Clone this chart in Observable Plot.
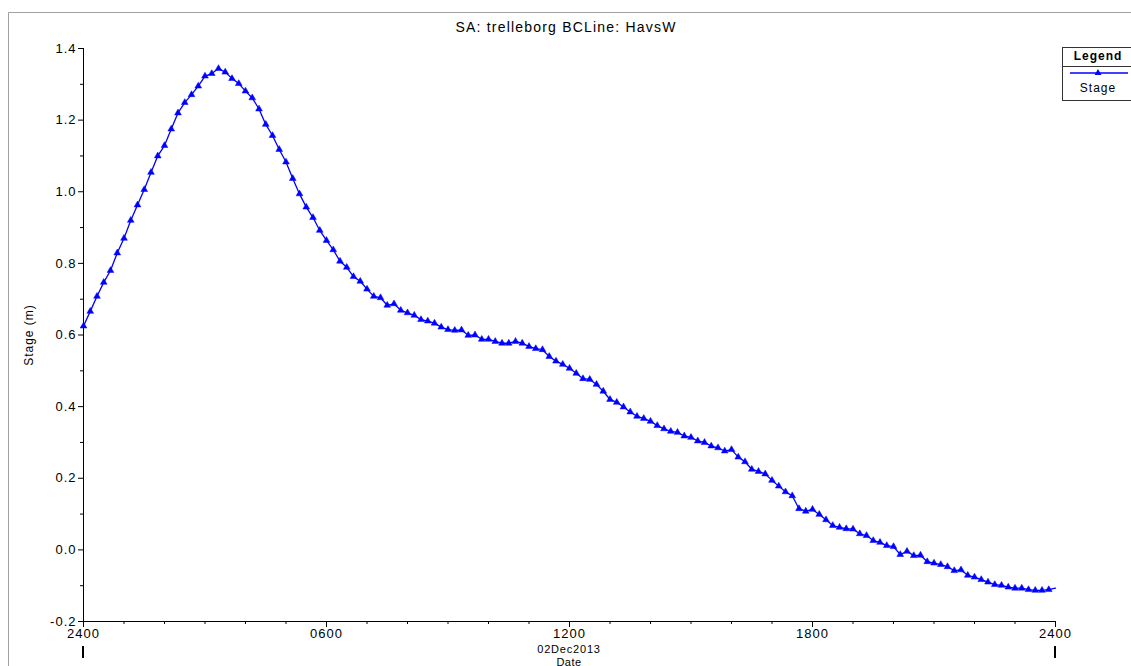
<!DOCTYPE html>
<html>
<head>
<meta charset="utf-8">
<script src="https://cdn.jsdelivr.net/npm/d3@7"></script>
<script src="https://cdn.jsdelivr.net/npm/@observablehq/plot@0.6"></script>
<style>
html, body { margin: 0; padding: 0; background: #fff; }
body { width: 1131px; height: 666px; overflow: hidden; }
#chart svg text { letter-spacing: 1px; }
</style>
</head>
<body>
<div id="chart"></div>
<script>
// ---- chart content ----
const title = "SA: trelleborg BCLine: HavsW";
const seriesName = "Stage";
const legendTitle = "Legend";
const yLabel = "Stage (m)";
const xLabel = "Date";
const dateLabel = "02Dec2013";
const intervalMinutes = 10;

// Stage (m), one value every 10 minutes from 01Dec2013 2400 to 02Dec2013 2400
const stage = [
  0.625, 0.666, 0.708, 0.747, 0.780, 0.829, 0.870, 0.920, 0.963, 1.006,
  1.054, 1.100, 1.129, 1.175, 1.220, 1.249, 1.271, 1.295, 1.323, 1.330,
  1.344, 1.334, 1.316, 1.302, 1.281, 1.262, 1.231, 1.188, 1.157, 1.118,
  1.083, 1.037, 0.994, 0.957, 0.928, 0.892, 0.864, 0.838, 0.806, 0.789,
  0.763, 0.750, 0.728, 0.708, 0.704, 0.683, 0.687, 0.669, 0.662, 0.655,
  0.643, 0.639, 0.633, 0.622, 0.615, 0.613, 0.614, 0.599, 0.600, 0.588,
  0.588, 0.582, 0.577, 0.577, 0.582, 0.577, 0.568, 0.562, 0.559, 0.540,
  0.527, 0.518, 0.507, 0.493, 0.478, 0.476, 0.462, 0.443, 0.420, 0.412,
  0.399, 0.385, 0.373, 0.367, 0.359, 0.347, 0.338, 0.331, 0.328, 0.318,
  0.314, 0.304, 0.300, 0.290, 0.285, 0.276, 0.280, 0.259, 0.246, 0.225,
  0.219, 0.212, 0.194, 0.178, 0.162, 0.151, 0.115, 0.108, 0.113, 0.099,
  0.084, 0.068, 0.063, 0.059, 0.058, 0.045, 0.040, 0.026, 0.021, 0.012,
  0.009, -0.013, -0.004, -0.016, -0.015, -0.033, -0.037, -0.041, -0.047, -0.058,
  -0.056, -0.071, -0.076, -0.083, -0.090, -0.097, -0.099, -0.104, -0.107, -0.107,
  -0.111, -0.113, -0.113, -0.111, -0.107
];

// axis ticks (hours since 01Dec2013 2400)
const xMajorTicks = [0, 6, 12, 18, 24];
const xMajorLabels = ["2400", "0600", "1200", "1800", "2400"];
const xMinorTicks = [0,1,2,3,4,5,6,7,8,9,10,11,12,13,14,15,16,17,18,19,20,21,22,23,24];
const yMajorTicks = [-0.2, 0.0, 0.2, 0.4, 0.6, 0.8, 1.0, 1.2, 1.4];
const yMinorTicks = [-0.1, 0.1, 0.3, 0.5, 0.7, 0.9, 1.1, 1.3];
const xDomain = [0, 24];
const yDomain = [-0.2, 1.4];

// ---- build ----
const data = stage.map((v, i) => ({hour: i * intervalMinutes / 60, stage: v}));
const font = "'Liberation Sans', Arial, Helvetica, sans-serif";
const blue = "#0000ff";

const chart = Plot.plot({
  width: 1131,
  height: 666,
  marginLeft: 83,
  marginRight: 76,
  marginTop: 48,
  marginBottom: 45,
  style: {fontFamily: font, fontSize: "13px", color: "#000", background: "#fff", overflow: "visible"},
  x: {domain: xDomain},
  y: {domain: yDomain},
  marks: [
    Plot.axisX({ticks: xMinorTicks, tickSize: 3, tickFormat: () => "", label: null}),
    Plot.axisX({ticks: xMajorTicks, tickSize: 6, tickPadding: 1, label: null,
      tickFormat: d => xMajorLabels[xMajorTicks.indexOf(d)]}),
    Plot.axisY({ticks: yMinorTicks, tickSize: 3, tickFormat: () => "", label: null}),
    Plot.axisY({ticks: yMajorTicks, tickSize: 5, tickPadding: 2, label: null,
      tickFormat: d => d.toFixed(1)}),
    Plot.ruleY([yDomain[0]], {stroke: "#000"}),
    Plot.ruleX([xDomain[0]], {stroke: "#000"}),
    Plot.line(data, {x: "hour", y: "stage", stroke: blue, strokeWidth: 1.3}),
    Plot.dot(data.slice(0, -1), {x: "hour", y: "stage", symbol: "triangle", r: 2.5, fill: blue, stroke: blue, strokeWidth: 0.5})
  ]
});

document.getElementById("chart").appendChild(chart);

const svg = d3.select(chart);
const xs = chart.scale("x");
const X = v => xs.apply(v);

// outer frame
svg.append("line").attr("x1", 8.5).attr("y1", 12.5).attr("x2", 1131).attr("y2", 12.5)
  .attr("stroke", "#a0a0a0");
svg.append("line").attr("x1", 8.5).attr("y1", 12.5).attr("x2", 8.5).attr("y2", 666)
  .attr("stroke", "#a0a0a0");

// title
svg.append("text").attr("x", 566).attr("y", 28).attr("text-anchor", "middle")
  .attr("dominant-baseline", "middle").style("font-size", "14px")
  .style("letter-spacing", "1.2px").attr("fill", "#000").text(title);

// y label
svg.append("text").attr("transform", "translate(30,335) rotate(-90)")
  .attr("text-anchor", "middle").attr("dominant-baseline", "middle")
  .style("font-size", "12px").style("letter-spacing", "1px").attr("fill", "#000").text(yLabel);

// date and x label
const midX = (X(xDomain[0]) + X(xDomain[1])) / 2;
svg.append("text").attr("x", midX).attr("y", 650).attr("text-anchor", "middle")
  .attr("dominant-baseline", "middle").style("font-size", "11px")
  .style("letter-spacing", "0.8px").attr("fill", "#000").text(dateLabel);
svg.append("text").attr("x", midX).attr("y", 663).attr("text-anchor", "middle")
  .attr("dominant-baseline", "middle").style("font-size", "11px")
  .style("letter-spacing", "0.5px").attr("fill", "#000").text(xLabel);

// day boundary markers
[xDomain[0], xDomain[1]].forEach(h => {
  svg.append("line").attr("x1", X(h)).attr("x2", X(h)).attr("y1", 646).attr("y2", 658)
    .attr("stroke", "#000").attr("stroke-width", 2);
});

// legend
const lg = svg.append("g");
lg.append("rect").attr("x", 1062.5).attr("y", 47.5).attr("width", 80).attr("height", 53)
  .attr("fill", "#fff").attr("stroke", "#333");
lg.append("line").attr("x1", 1062.5).attr("x2", 1142).attr("y1", 66.5).attr("y2", 66.5)
  .attr("stroke", "#333");
lg.append("text").attr("x", 1098).attr("y", 57).attr("text-anchor", "middle")
  .attr("dominant-baseline", "middle").style("font-size", "12px").style("font-weight", "bold")
  .style("letter-spacing", "1px").attr("fill", "#000").text(legendTitle);
lg.append("line").attr("x1", 1070).attr("x2", 1128).attr("y1", 73).attr("y2", 73)
  .attr("stroke", blue).attr("stroke-width", 1.3);
lg.append("path").attr("d", d3.symbol(d3.symbolTriangle, Math.PI * 2.5 * 2.5)())
  .attr("transform", "translate(1098,73)").attr("fill", blue);
lg.append("text").attr("x", 1098).attr("y", 89).attr("text-anchor", "middle")
  .attr("dominant-baseline", "middle").style("font-size", "12px")
  .style("letter-spacing", "1px").attr("fill", "#000").text(seriesName);
</script>
</body>
</html>
